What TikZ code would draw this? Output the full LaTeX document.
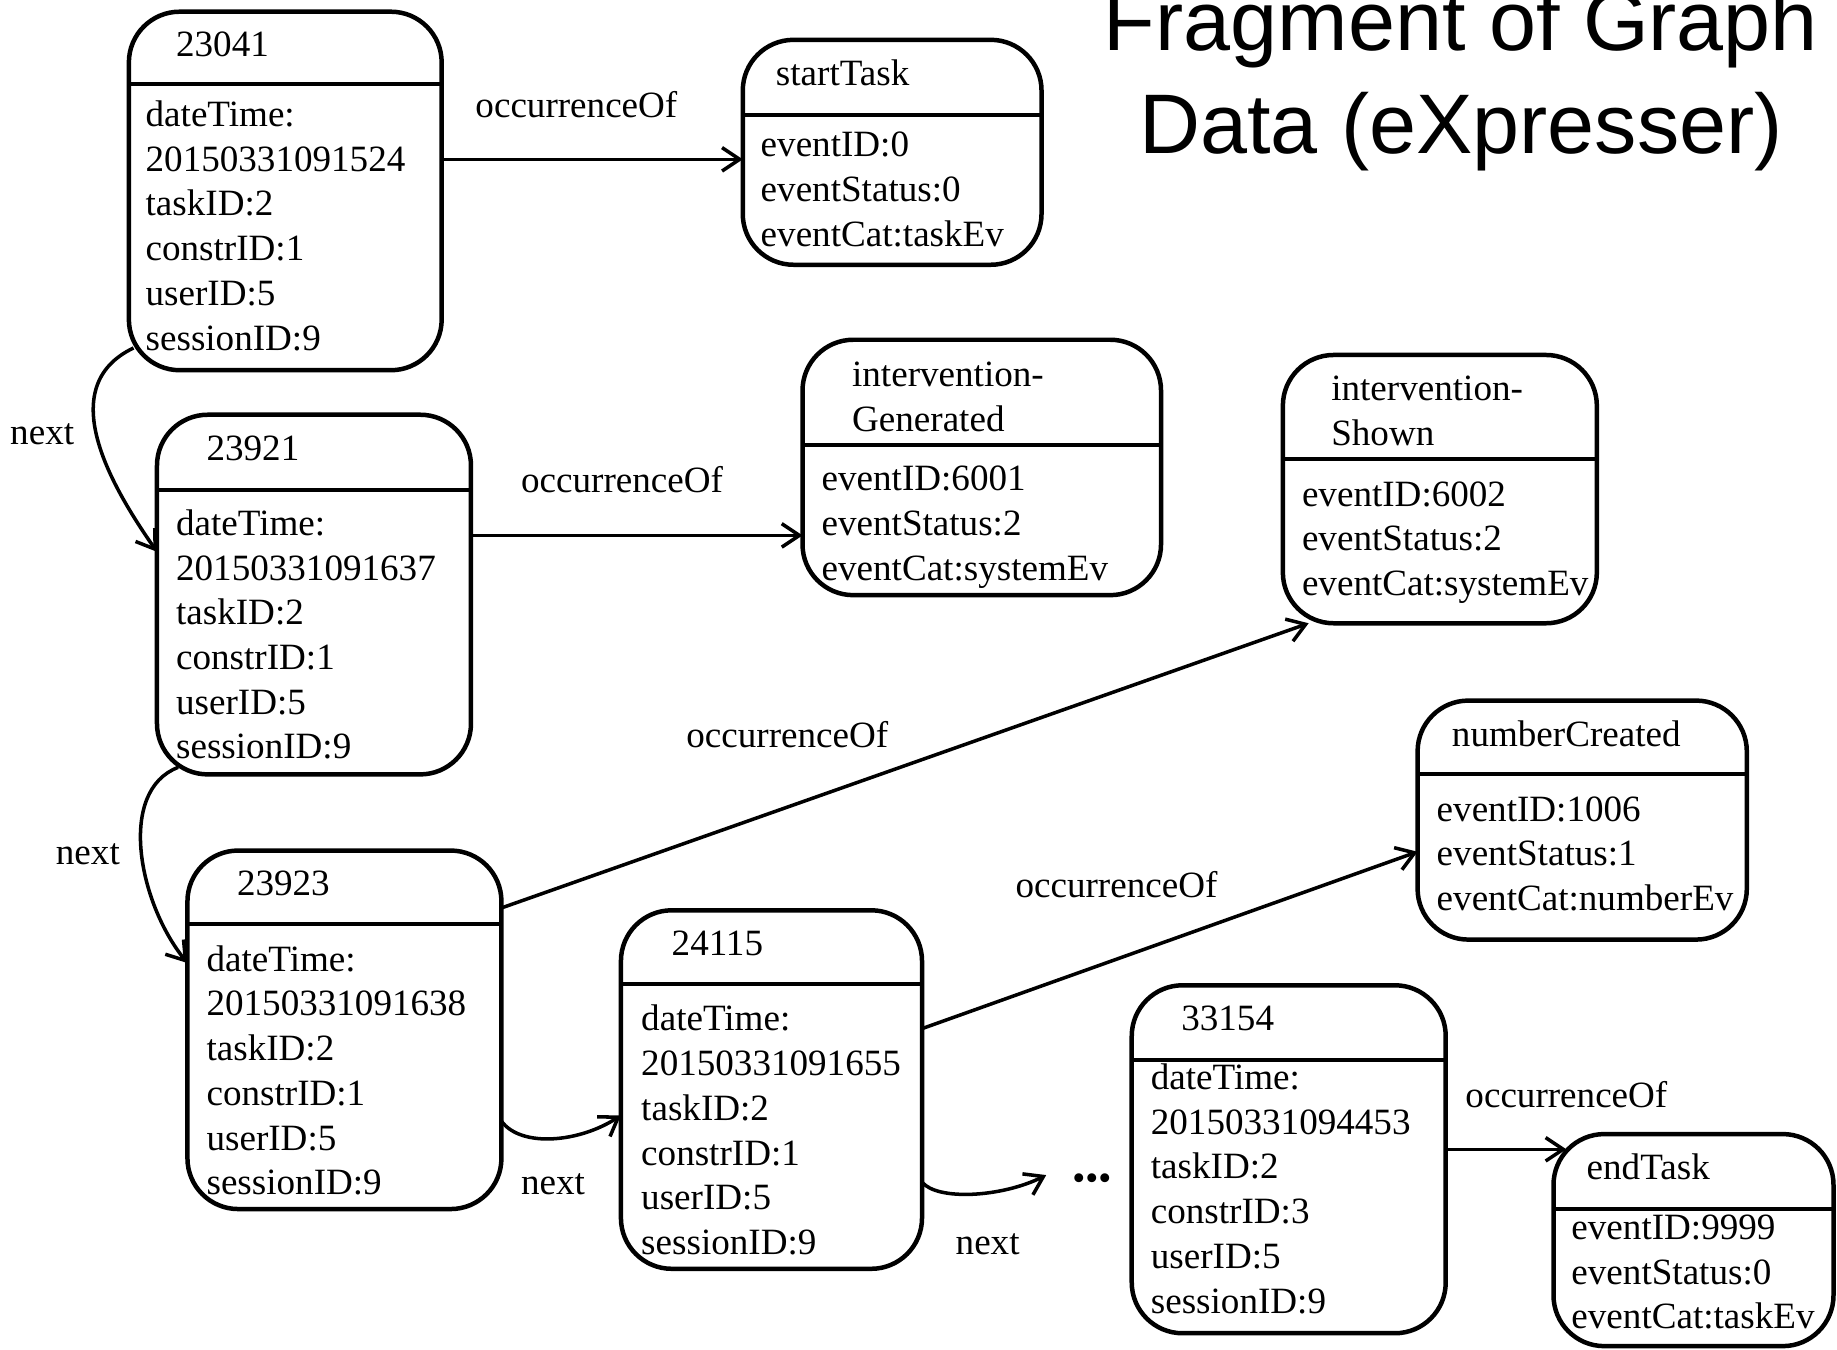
\documentclass[tikz,border=0pt]{standalone}
\usepackage{fontspec}
\setmainfont{Liberation Serif}
\newfontfamily\titlefont{Liberation Sans}
\usetikzlibrary{arrows.meta,calc}
\newcommand\bodyfont{\fontsize{19}{22.9}\selectfont}
\newcommand\objbox[6]{%
  \node[box, minimum width={(#4-#2)*0.6pt}, minimum height={(#5-#3)*0.6pt}] (#1) at ({(#2+#4)/2},{(#3+#5)/2}) {};
  \draw[hdr] (#1.west |- 0,#6) -- (#1.east |- 0,#6);
}
\begin{document}
\begin{tikzpicture}[x=0.6pt,y=-0.6pt,
  box/.style={draw, line width=2.3pt, rounded corners=26pt, inner sep=0pt, outer sep=0pt},
  hdr/.style={line width=2pt},
  ttl/.style={anchor=base west, inner sep=0pt, font=\bodyfont, align=left},
  body/.style={anchor=base west, inner sep=0pt, font=\bodyfont, align=left},
  lbl/.style={inner sep=0pt, font=\bodyfont},
  conn/.style={line width=1.8pt, -{Straight Barb[length=9pt,width=12pt,line width=1.8pt]}},
]
\useasboundingbox (0,0) rectangle (1568,1152);

% title (base anchor = baseline of last line)
\node[font=\titlefont\fontsize{43.3}{52.5}\selectfont, align=center, anchor=base, inner sep=0pt] (title) at (1247,131) {Fragment of Graph\\Data (eXpresser)};

% boxes
\objbox{n23041}{110}{10}{377}{316}{72}
\node[ttl] (t23041) at (150,48) {23041};
\node[body] (d23041) at (124,298.8) {dateTime:\\20150331091524\\taskID:2\\constrID:1\\userID:5\\sessionID:9};

\objbox{startTask}{634}{34}{889}{226}{98}
\node[ttl] (tstart) at (662,73) {startTask};
\node[body] (dstart) at (649,210.3) {eventID:0\\eventStatus:0\\eventCat:taskEv};

\objbox{n23921}{134}{354}{402}{661}{418}
\node[ttl] (t23921) at (176,393) {23921};
\node[body] (d23921) at (150,647.8) {dateTime:\\20150331091637\\taskID:2\\constrID:1\\userID:5\\sessionID:9};

\objbox{intGen}{685}{290}{991}{508}{380}
\node[ttl] (tintGen) at (727,368.2) {intervention-\\Generated};
\node[body] (dintGen) at (701,495.3) {eventID:6001\\eventStatus:2\\eventCat:systemEv};

\objbox{intShown}{1095}{303}{1363}{532}{392}
\node[ttl] (tintShown) at (1136,380.2) {intervention-\\Shown};
\node[body] (dintShown) at (1111,508.3) {eventID:6002\\eventStatus:2\\eventCat:systemEv};

\objbox{numCreated}{1210}{598}{1491}{802}{661}
\node[ttl] (tnum) at (1239,637) {numberCreated};
\node[body] (dnum) at (1226,777.3) {eventID:1006\\eventStatus:1\\eventCat:numberEv};

\objbox{n23923}{160}{726}{428}{1032}{789}
\node[ttl] (t23923) at (202,764) {23923};
\node[body] (d23923) at (176,1019.8) {dateTime:\\20150331091638\\taskID:2\\constrID:1\\userID:5\\sessionID:9};

\objbox{n24115}{530}{777}{787}{1083}{840}
\node[ttl] (t24115) at (573,816) {24115};
\node[body] (d24115) at (547,1070.8) {dateTime:\\20150331091655\\taskID:2\\constrID:1\\userID:5\\sessionID:9};

\objbox{n33154}{966}{841}{1234}{1138}{905}
\node[ttl] (t33154) at (1008,880) {33154};
\node[body] (d33154) at (982,1120.8) {dateTime:\\20150331094453\\taskID:2\\constrID:3\\userID:5\\sessionID:9};

\objbox{endTask}{1326}{968}{1565}{1149}{1032}
\node[ttl] (tend) at (1354,1007) {endTask};
\node[body] (dend) at (1341,1134.3) {eventID:9999\\eventStatus:0\\eventCat:taskEv};

% labels
\node[lbl] (l1) at (492,89) {occurrenceOf};
\node[lbl] (l2) at (531,409) {occurrenceOf};
\node[lbl] (l3) at (672,627) {occurrenceOf};
\node[lbl] (l4) at (953,755) {occurrenceOf};
\node[lbl] (l5) at (1337,934) {occurrenceOf};
\node[lbl] (n1) at (36,371) {next};
\node[lbl] (n2) at (75,729) {next};
\node[lbl] (n3) at (472,1011) {next};
\node[lbl] (n4) at (843,1062) {next};
\node[lbl] (dots) at (932,1009) {•••};
\coordinate (dotsIn) at (893,1003);

% occurrenceOf connectors
\draw[conn] (n23041.east |- 0,136) -- (startTask.west |- 0,136);
\draw[conn] (n23921.east |- 0,457) -- (intGen.west |- 0,457);
\draw[conn] (n23923.east |- 0,775) -- ($(intShown.south west)+(22,0)$);
\draw[conn] (n24115.east |- 0,878) -- (numCreated.west |- 0,727);
\draw[conn] (n33154.east |- 0,981) -- ($(endTask.north west)+(11,13)$);

% next connectors
\draw[conn] ($(n23041.south west)+(4,-19)$) .. controls (45,330) and (95,415) .. (n23921.west |- 0,471);
\draw[conn] ($(n23921.south west)+(18,-6)$) .. controls (100,675) and (118,770) .. (n23923.west |- 0,822);
\draw[conn] (n23923.east |- 0,957) .. controls (445,980) and (495,975) .. (n24115.west |- 0,952);
\draw[conn] (n24115.east |- 0,1009) .. controls (800,1025) and (855,1022) .. (dotsIn);
\end{tikzpicture}
\end{document}
